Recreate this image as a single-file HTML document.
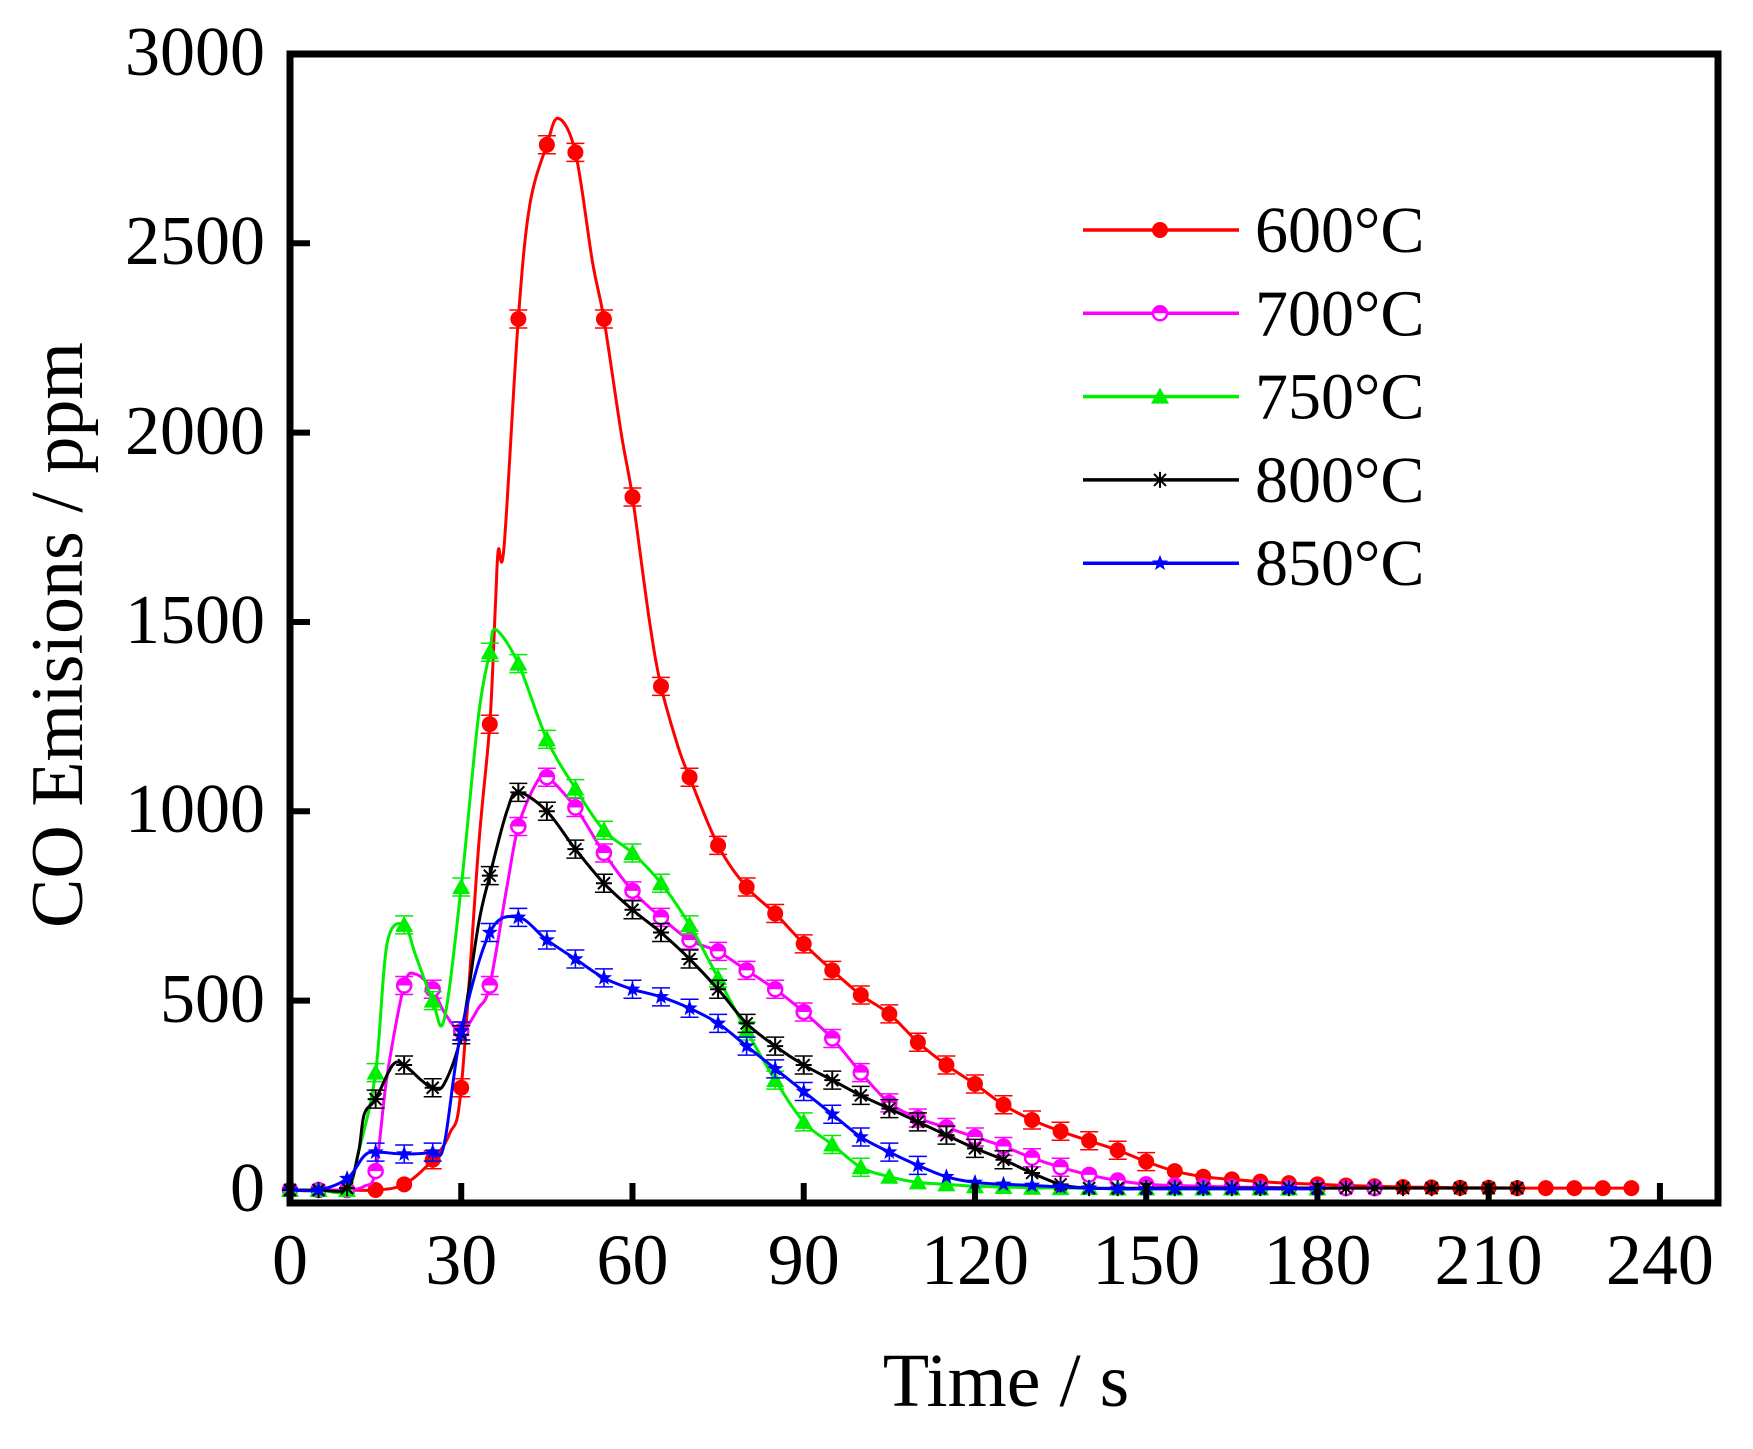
<!DOCTYPE html>
<html><head><meta charset="utf-8"><style>
html,body{margin:0;padding:0;background:#fff;}
svg{display:block;}
text{font-family:"Liberation Serif",serif;fill:#000;}
</style></head><body>
<svg id="s" width="1753" height="1449" viewBox="0 0 1753 1449" xmlns="http://www.w3.org/2000/svg">
<g id="plot"></g>
<rect x="290" y="54" width="1428" height="1149" fill="none" stroke="#000" stroke-width="7"/>
<g stroke="#000" stroke-width="6" id="ticks"></g>
<g font-size="70" text-anchor="end">
<text x="265" y="75">3000</text><text x="265" y="264">2500</text><text x="265" y="454">2000</text>
<text x="265" y="643">1500</text><text x="265" y="832">1000</text><text x="265" y="1022">500</text><text x="265" y="1211">0</text>
</g>
<g font-size="72" text-anchor="middle" id="xl"></g>
<text x="1006" y="1406" font-size="76" text-anchor="middle">Time / s</text>
<text transform="translate(82,635) rotate(-90)" font-size="74" text-anchor="middle">CO Emisions / ppm</text>
<g font-size="66" id="leg"></g>
</svg>
<script>
const X=t=>290+t*5.708, Y=v=>1190-v*0.3787;
const S=[
{c:"#ff0000",m:"dot",n:"600°C",d:[[0,0],[5,0],[10,0],[15,0],[20,15],[25,80],[28,150],[30,270],[33,900],[35,1230],[36,1550],[36.5,1690],[37.5,1700],[40,2300],[42,2600],[45,2760],[47,2830],[50,2740],[53,2450],[55,2300],[58,2000],[60,1830],[63,1500],[65,1330],[68,1170],[70,1090],[75,910],[80,800],[85,730],[90,650],[95,580],[100,515],[105,465],[110,390],[115,330],[120,280],[125,225],[130,185],[135,155],[140,130],[145,105],[150,75],[155,50],[160,35],[165,28],[170,22],[175,18],[180,15],[185,12],[190,10],[195,8],[200,7],[205,6],[210,6],[215,5],[220,5],[225,5],[230,5],[235,5]],mk:[15,235]},
{c:"#ff00ff",m:"half",n:"700°C",d:[[0,0],[5,0],[10,0],[13,10],[15,50],[17,300],[20,540],[22,570],[25,530],[27,470],[30,420],[33,480],[35,540],[38,800],[40,960],[43,1070],[45,1090],[50,1010],[55,890],[60,790],[65,720],[70,660],[75,630],[80,580],[85,530],[90,470],[95,400],[100,310],[105,230],[110,190],[115,165],[120,140],[125,115],[130,85],[135,60],[140,40],[145,25],[150,15],[155,12],[160,10],[165,8],[170,7],[175,6],[180,5],[185,5],[190,5]],mk:[0,190]},
{c:"#00ee00",m:"tri",n:"750°C",d:[[0,0],[5,0],[10,0],[12,100],[15,310],[17,650],[20,700],[22,620],[25,500],[27,450],[30,800],[33,1250],[35,1420],[36,1480],[40,1390],[45,1190],[50,1060],[55,950],[60,890],[65,810],[70,700],[75,560],[80,420],[85,290],[90,180],[95,120],[100,60],[105,35],[110,20],[115,15],[120,10],[125,8],[130,6],[135,5],[140,5],[145,4],[150,4],[155,4],[160,4],[165,4],[170,4],[175,4],[180,4]],mk:[0,180]},
{c:"#000000",m:"ast",n:"800°C",d:[[0,0],[5,0],[10,5],[12,100],[13,200],[15,240],[18,330],[20,330],[23,290],[25,270],[27,280],[30,410],[33,700],[35,830],[38,1000],[40,1050],[45,1000],[50,900],[55,810],[60,740],[65,680],[70,610],[75,530],[80,440],[85,380],[90,330],[95,290],[100,250],[105,215],[110,180],[115,145],[120,110],[125,80],[130,45],[135,15],[140,5],[150,5],[160,5],[170,5],[180,5],[190,5],[200,5],[210,5],[215,5]],mk:[0,215]},
{c:"#0000ff",m:"star",n:"850°C",d:[[0,0],[5,0],[10,30],[13,90],[15,100],[20,95],[25,100],[27,120],[30,420],[35,680],[40,720],[45,660],[50,610],[55,560],[60,530],[65,510],[70,480],[75,440],[80,380],[85,320],[90,260],[95,200],[100,140],[105,100],[110,65],[115,35],[120,20],[125,15],[130,12],[135,8],[140,5],[145,3],[150,3],[155,3],[160,3],[165,3],[170,3],[175,3],[180,3]],mk:[0,180]}
];
const ns="http://www.w3.org/2000/svg";
function el(t,a,p){const e=document.createElementNS(ns,t);for(const k in a)e.setAttribute(k,a[k]);p.appendChild(e);return e;}
function interp(d,t){for(let i=0;i<d.length-1;i++){if(t>=d[i][0]&&t<=d[i+1][0]){const f=(t-d[i][0])/(d[i+1][0]-d[i][0]);return d[i][1]+f*(d[i+1][1]-d[i][1]);}}return d[d.length-1][1];}
function path(d){const p=d.map(q=>[X(q[0]),Y(q[1])]);let s="M"+p[0][0]+","+p[0][1];
for(let i=0;i<p.length-1;i++){const p0=p[i-1]||p[i],p1=p[i],p2=p[i+1],p3=p[i+2]||p2;
const c1=[p1[0]+(p2[0]-p0[0])/6,p1[1]+(p2[1]-p0[1])/6],c2=[p2[0]-(p3[0]-p1[0])/6,p2[1]-(p3[1]-p1[1])/6];
s+=`C${c1[0].toFixed(1)},${c1[1].toFixed(1)} ${c2[0].toFixed(1)},${c2[1].toFixed(1)} ${p2[0].toFixed(1)},${p2[1].toFixed(1)}`;}return s;}
function marker(m,x,y,c,g){
 if(m=="dot")el("circle",{cx:x,cy:y,r:8,fill:c},g);
 else if(m=="half"){el("circle",{cx:x,cy:y,r:7,fill:"#fff",stroke:c,"stroke-width":2.5},g);el("path",{d:`M${x-7},${y}A7,7 0 0 1 ${x+7},${y}Z`,fill:c},g);}
 else if(m=="tri")el("path",{d:`M${x},${y-9}L${x+9},${y+7}L${x-9},${y+7}Z`,fill:c},g);
 else if(m=="ast")el("path",{d:`M${x-8},${y}H${x+8}M${x},${y-8}V${y+8}M${x-6},${y-6}L${x+6},${y+6}M${x-6},${y+6}L${x+6},${y-6}`,stroke:c,"stroke-width":2,fill:"none"},g);
 else{let s="";for(let i=0;i<10;i++){const r=i%2?3.5:8.5,a=-Math.PI/2+i*Math.PI/5;s+=(i?"L":"M")+(x+r*Math.cos(a)).toFixed(1)+","+(y+r*Math.sin(a)).toFixed(1);}el("path",{d:s+"Z",fill:c},g);}
}
const g=document.getElementById("plot");
S.forEach(s=>{el("path",{d:path(s.d),fill:"none",stroke:s.c,"stroke-width":3},g);
 for(let t=s.mk[0];t<=s.mk[1];t+=5){const v=interp(s.d,t),x=X(t),y=Y(v);
  if(v>50){el("path",{d:`M${x-9},${y-9}H${x+9}M${x-9},${y+9}H${x+9}M${x},${y-9}V${y+9}`,stroke:s.c,"stroke-width":1.5,fill:"none"},g);}
  marker(s.m,x,y,s.c,g);}
});
const tk=document.getElementById("ticks"),xl=document.getElementById("xl");
for(let t=0;t<=240;t+=30){if(t>0)el("line",{x1:X(t),y1:1203,x2:X(t),y2:1183},tk);const e=el("text",{x:X(t),y:1284},xl);e.textContent=t;}
for(let v=500;v<=2500;v+=500)el("line",{x1:290,y1:Y(v),x2:310,y2:Y(v)},tk);
const lg=document.getElementById("leg");
S.forEach((s,i)=>{const y=230+i*83.3;el("line",{x1:1083,y1:y,x2:1239,y2:y,stroke:s.c,"stroke-width":3.5},lg);
 marker(s.m,1160,y,s.c,lg);const t=el("text",{x:1255,y:y+22},lg);t.textContent=s.n;});
</script>
</body></html>
